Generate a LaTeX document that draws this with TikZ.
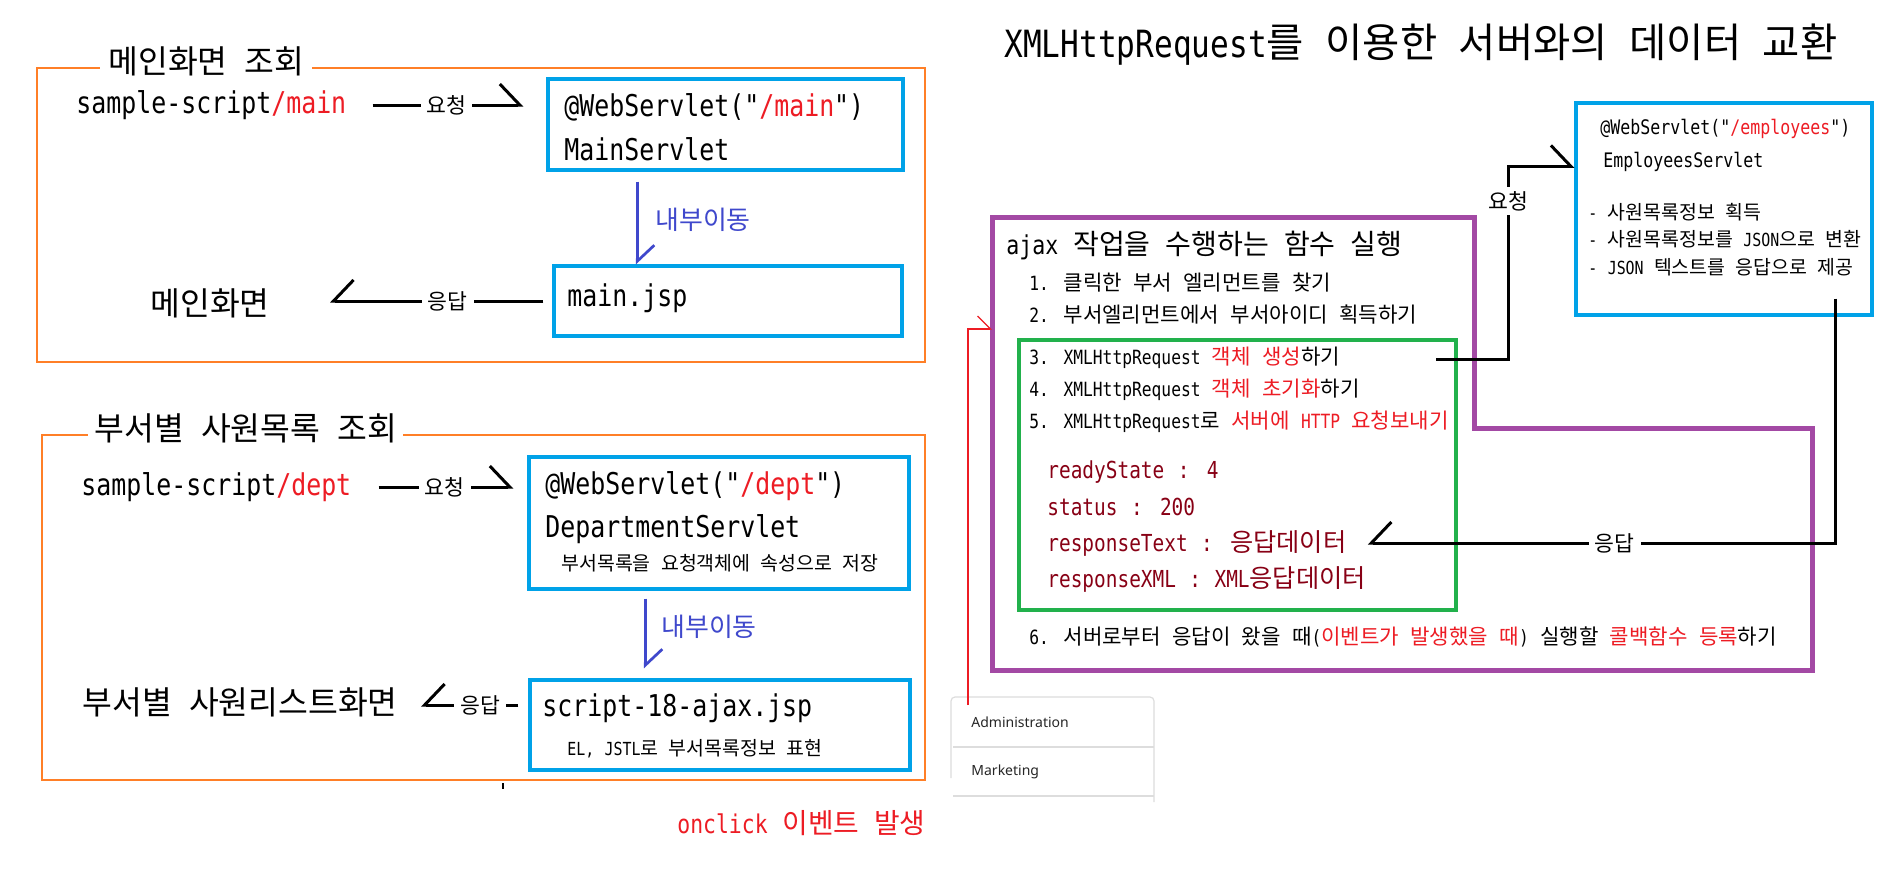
\documentclass[tikz,border=0pt]{standalone}
\usepackage{fontspec}
\usetikzlibrary{arrows.meta,fit}
\setmainfont[FakeStretch=0.83,WordSpace=1.15,Ligatures=TeXOff]{DejaVu Sans Mono}
\newfontfamily\hangulfont[Scale=1.08]{Noto Sans CJK KR}
\newfontfamily\webfont{Noto Sans}
% hangul syllables switch to the korean font
\XeTeXinterchartokenstate=1
\newXeTeXintercharclass\hangulclass
\newcount\hgcnt
\hgcnt="AC00
\loop
  \XeTeXcharclass\hgcnt=\hangulclass
  \ifnum\hgcnt<"D7A3 \advance\hgcnt by 1
\repeat
\XeTeXinterchartoks 0 \hangulclass={\begingroup\hangulfont}
\XeTeXinterchartoks 4095 \hangulclass={\begingroup\hangulfont}
\XeTeXinterchartoks \hangulclass 0={\endgroup}
\XeTeXinterchartoks \hangulclass 4095={\endgroup}
\definecolor{frameorange}{HTML}{FF7F27}
\definecolor{boxblue}{HTML}{00A2E8}
\definecolor{moveblue}{HTML}{3F48CC}
\definecolor{fnpurple}{HTML}{A349A4}
\definecolor{stepgreen}{HTML}{22B14C}
\definecolor{hlred}{HTML}{ED1C24}
\definecolor{propred}{HTML}{880015}
\definecolor{listgray}{HTML}{DDDDDD}
\newcommand\setfs[1]{\fontsize{#1}{#1}\selectfont}
\newcommand\redtxt[1]{\textcolor{hlred}{#1}}
\begin{document}
\begin{tikzpicture}[x=0.5pt,y=-0.5pt]
    \tikzset{txt/.style={anchor=west,inner sep=0pt},
        big/.style={txt,font=\setfs{15}},
        frame/.style={draw=frameorange,line width=0.7pt},
        section/.style={anchor=west,fill=white,inner xsep=4pt,inner ysep=1pt,font=\setfs{15}},
        sbox/.style={draw=boxblue,line width=1.7pt,inner sep=0pt},
        stepbox/.style={draw=stepgreen,line width=2.2pt,inner sep=0pt},
        fnline/.style={draw=fnpurple,line width=2.5pt},
        conn/.style={line width=1.5pt,-{Straight Barb[left,length=10pt,width=21pt]}},
        connr/.style={line width=1.5pt,-{Straight Barb[right,length=10pt,width=21pt]}},
        move/.style={draw=moveblue,line width=1.35pt,-{Straight Barb[left,length=8pt,width=17pt]}},
        clickline/.style={draw=hlred,line width=0.6pt,-{Straight Barb[left,length=6.5pt,width=13pt]}},
        listline/.style={draw=listgray,line width=0.6pt},
        tag/.style={fill=white,inner xsep=3pt,inner ysep=2pt,font=\setfs{10}},
        movetag/.style={txt,text=moveblue,font=\setfs{12}},
        prop/.style={txt,text=propred,font=\setfs{11.7}},
        stepline/.style={txt,font=\setfs{9.8}}}
    \useasboundingbox (0,0) rectangle (1898,868);
    \fill[white] (0,0) rectangle (1898,868);

    % main page
    \draw[frame] (37,68) rectangle (925,362);
    \node[section] (mainsec) at (100,61) {메인화면 조회};
    \node[big] (mainurl) at (76,105) {sample-script\redtxt{/main}};
    \node[sbox,fit={(548,79) (903,170)}] (mainsvl) {};
    \node[big] (mainanno) at (564,107) {@WebServlet("\redtxt{/main}")};
    \node[big] (mainname) at (564,149) {MainServlet};
    \node[sbox,fit={(554,266) (902,336)}] (mainjsp) {};
    \node[big] (mainjspname) at (567,298) {main.jsp};
    \node[big] (mainview) at (150,303) {메인화면};
    \draw[conn,shorten <=13pt,shorten >=11.5pt] (mainurl.east) -- node[tag] (mainreq) {요청} (mainurl.east -| mainsvl.west);
    \draw[move] ([xshift=45.5pt,yshift=-5pt]mainsvl.south west) -- ([xshift=42.5pt]mainjsp.north west);
    \node[movetag] (mainmove) at (655,220) {내부이동};
    \draw[connr,shorten <=4.5pt,shorten >=30pt] (mainjsp.west) -- node[tag,pos=0.37] (mainres) {응답} (mainjsp.west -| mainview.east);

    % department page
    \draw[frame] (42,435) rectangle (925,780);
    \node[section,inner xsep=3pt] (deptsec) at (88,428) {부서별 사원목록 조회};
    \node[big] (depturl) at (81,487) {sample-script\redtxt{/dept}};
    \node[sbox,fit={(529,457) (909,589)}] (deptsvl) {};
    \node[big] (deptanno) at (545,486) {@WebServlet("\redtxt{/dept}")};
    \node[big] (deptname) at (545,529) {DepartmentServlet};
    \node[txt,font=\setfs{9}] (deptnote) at (561,563) {부서목록을 요청객체에 속성으로 저장};
    \node[sbox,fit={(530,680) (910,770)}] (ajaxjsp) {};
    \node[big] (ajaxname) at (542,708) {script-18-ajax.jsp};
    \node[txt,font=\setfs{9}] (ajaxnote) at (567,749) {EL, JSTL로 부서목록정보 표현};
    \node[big] (deptview) at (82,702) {부서별 사원리스트화면};
    \draw[conn,shorten <=13.5pt,shorten >=7pt] (depturl.east) -- node[tag,pos=0.53] (deptreq) {요청} (depturl.east -| deptsvl.west);
    \draw[move] ([xshift=59pt,yshift=-4pt]deptsvl.south west) -- ([xshift=58.5pt,yshift=5pt]ajaxjsp.north west);
    \node[movetag] (deptmove) at (661,627) {내부이동};
    \coordinate (ajaxin) at ([yshift=10pt]ajaxjsp.west);
    \draw[connr,shorten <=5pt,shorten >=11.5pt] (ajaxin) -- node[tag,pos=0.37] (deptres) {응답} (ajaxin -| deptview.east);
    \draw[line width=0.8pt] (503,783) -- (503,789);
    \node[txt,text=hlred,font=\setfs{12.9}] (onclick) at (677,823) {onclick 이벤트 발생};

    % xmlhttprequest
    \node[txt,font=\setfs{18.75}] (title) at (1004,45) {XMLHttpRequest를 이용한 서버와의 데이터 교환};
    \node[sbox,line width=1.6pt,fit={(1576,103) (1872,315)}] (empbox) {};
    \node[txt,font=\setfs{10}] (empanno) at (1600,129) {@WebServlet("\redtxt{/employees}")};
    \node[txt,font=\setfs{10}] (empname) at (1603,162) {EmployeesServlet};
    \node[txt,font=\setfs{9}] (empstep1) at (1588,212) {- 사원목록정보 획득};
    \node[txt,font=\setfs{9}] (empstep2) at (1588,239) {- 사원목록정보를 JSON으로 변환};
    \node[txt,font=\setfs{9}] (empstep3) at (1588,267) {- JSON 텍스트를 응답으로 제공};
    \draw[fnline] (992,217) coordinate (ajaxnw) -- (1474,217) -- (1474,428) -- (1812,428) -- (1812,670) -- (992,670) -- cycle;
    \node[stepbox,fit={(1019,340) (1456,610)}] (xhrbox) {};
    \node[txt,font=\setfs{13}] (ajaxfn) at (1006,245) {ajax 작업을 수행하는 함수 실행};
    \node[stepline] (step1) at (1029,283) {1. 클릭한 부서 엘리먼트를 찾기};
    \node[stepline] (step2) at (1029,315) {2. 부서엘리먼트에서 부서아이디 획득하기};
    \node[stepline] (step3) at (1029,358) {3. XMLHttpRequest \redtxt{객체 생성}하기};
    \node[stepline] (step4) at (1029,390) {4. XMLHttpRequest \redtxt{객체 초기화}하기};
    \node[stepline] (step5) at (1029,422) {5. XMLHttpRequest로 \redtxt{서버에 HTTP 요청보내기}};
    \node[prop] (readystate) at (1047,472) {readyState : 4};
    \node[prop] (status) at (1047,507) {status : 200};
    \node[prop] (resptext) at (1047,543) {responseText : 응답데이터};
    \node[prop] (respxml) at (1047,579) {responseXML : XML응답데이터};
    \node[stepline] (step6) at (1029,637) {6. 서버로부터 응답이 왔을 때(\redtxt{이벤트가 발생했을 때}) 실행할 \redtxt{콜백함수 등록}하기};
    \draw[conn] ([xshift=-11pt,yshift=-11pt]xhrbox.north east) -- ++(72,0) |- node[tag,pos=0.41] (empreq) {요청} ([yshift=-32.5pt]empbox.north west);
    \draw[connr] ([xshift=-19pt,yshift=9pt]empbox.south east) |- node[tag,pos=0.736] (empres) {응답} ([xshift=10.5pt]resptext.east);

    % department list
    \coordinate (listnw) at (951,697);
    \draw[listline,rounded corners=2pt] (951,778) -- (listnw) -- (1154,697) -- (1154,802);
    \draw[listline] (953,747) -- (1154,747);
    \draw[listline] (953,796) -- (1154,796);
    \node[txt,font=\webfont\setfs{7},text=black!85] (admin) at (971,722) {Administration};
    \node[txt,font=\webfont\setfs{7},text=black!85] (marketing) at (971,772) {Marketing};
    \draw[clickline] ([xshift=8.5pt,yshift=-4pt]listnw) |- ([yshift=-56pt]ajaxnw);
\end{tikzpicture}
\end{document}
